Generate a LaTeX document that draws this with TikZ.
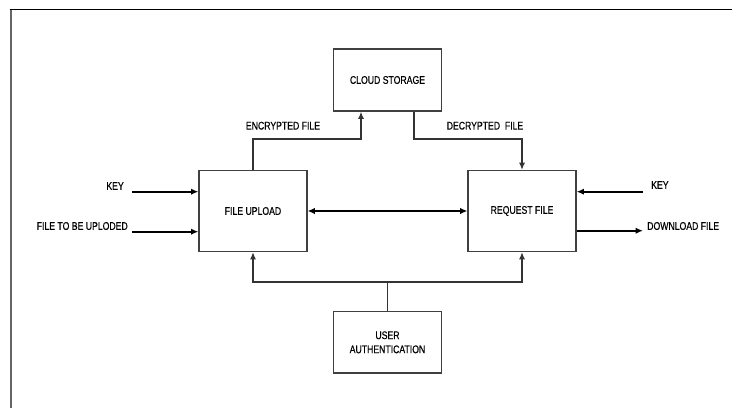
\documentclass[tikz,border=0pt]{standalone}
\usepackage{fontspec}
\setmainfont{Liberation Sans}[FakeStretch=0.78,FakeBold=0.4]
\usetikzlibrary{arrows.meta}

\tikzset{
  block/.style={draw=black!75, line width=1.1pt, minimum width=3.24cm,
    align=center, font=\fontsize{9.5}{11}\selectfont},
  lbl/.style={inner sep=0pt, font=\fontsize{9.5}{11}\selectfont},
  arr/.style={line width=1.2pt, -{Latex[length=2.2mm,width=1.9mm]}},
}

\begin{document}
\begin{tikzpicture}
      [x=0.03cm, y=-0.03cm]
      \useasboundingbox (0,0) rectangle (732,408);
      % frame
      \draw[black!60, line width=2.5pt] (11,9) -- (11,408);
      \draw[line width=1.1pt] (9.5,9.7) -- (732,9.7);

      % blocks
      \node[block, minimum height=2.43cm] (upload) at (253,211) {FILE UPLOAD};
      \node[block, minimum height=2.43cm] (request) at (522,211) {REQUEST FILE};
      \node[block, minimum height=1.86cm] (cloud) at (387.5,80) {CLOUD STORAGE};
      \node[block, minimum height=1.84cm] (auth) at (387.5,342.3) {USER\\[1pt] AUTHENTICATION};

      % labels
      \node[lbl, anchor=east] (keyl) at (124,186) {KEY};
      \node[lbl, anchor=east] (filel) at (128,226) {FILE TO BE UPLODED};
      \node[lbl, anchor=west] (keyr) at (651,185) {KEY};
      \node[lbl, anchor=west] (downl) at (647,226) {DOWNLOAD FILE};
      \node[lbl] (encl) at (283,125.7) {ENCRYPTED FILE};
      \node[lbl] (decl) at (485,125.7) {DECRYPTED\ \ FILE};

      \coordinate (keyin) at (132,191.7);
      \coordinate (filein) at (132,231.7);
      \coordinate (keyout) at (643,191.7);
      \coordinate (downout) at (643,230.7);
      \coordinate (encbend) at (361,139);
      \coordinate (decbend) at (414,139);
      \coordinate (bus) at (387.5,282);

      % inputs and outputs
      \draw[arr, line width=1.4pt] (keyin) -- (keyin -| upload.west);
      \draw[arr, line width=1.4pt] (filein) -- (filein -| upload.west);
      \draw[arr, line width=1.4pt] (keyout) -- (keyout -| request.east);
      \draw[arr, line width=1.4pt] (downout -| request.east) -- (downout);

      % cloud
      \draw[arr, black!80] (upload.north) |- (encbend) -- (encbend |- cloud.south);
      \draw[arr, black!80] (decbend |- cloud.south) -- (decbend) -| (request.north);

      \draw[arr, line width=1.7pt, {Latex[length=2.2mm,width=2mm]}-{Latex[length=2.2mm,width=2mm]}] (upload) -- (request);

      % authentication
      \draw[black!80, line width=1.2pt] (auth.north) -- (bus);
      \draw[arr, black!80] (bus) -| (upload.south);
      \draw[arr, black!80] (bus) -| (request.south);
    \end{tikzpicture}
\end{document}
